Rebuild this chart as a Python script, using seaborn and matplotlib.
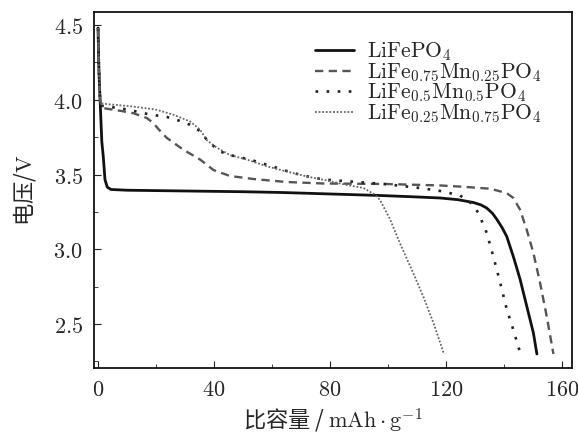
import numpy as np
import pandas as pd
import seaborn as sns
import matplotlib.pyplot as plt
from matplotlib.ticker import MultipleLocator, FuncFormatter

# discharge curves (capacity in mAh/g, voltage in V)
lfp_cap = [0, 0.3, 0.7, 1.3, 1.8, 2.4, 3.2, 4.5, 10, 30, 50, 63, 80, 97, 110, 118,
           124, 129.4, 132, 134, 136, 137.5, 139.3, 140.9, 143.2, 145.5, 147.8,
           150.1, 151.3]
lfp_v = [4.48, 4.2, 4.0, 3.72, 3.62, 3.465, 3.415, 3.40, 3.395, 3.39, 3.385, 3.38,
         3.37, 3.36, 3.35, 3.343, 3.332, 3.313, 3.297, 3.276, 3.24, 3.20, 3.145,
         3.086, 2.95, 2.80, 2.62, 2.44, 2.30]

m25_cap = [0, 0.3, 0.7, 1.2, 1.8, 8, 12.2, 16.8, 19, 21, 23.7, 29.4, 35.2, 39.8,
           45.5, 53.6, 65, 77.7, 98.4, 117.9, 126, 135.2, 140.9, 143.2, 145.5,
           147.8, 150.1, 152.4, 154.7, 157]
m25_v = [4.48, 4.2, 4.0, 3.955, 3.944, 3.925, 3.91, 3.878, 3.845, 3.80, 3.745,
         3.666, 3.60, 3.53, 3.49, 3.47, 3.45, 3.44, 3.437, 3.427, 3.418, 3.405,
         3.376, 3.343, 3.265, 3.13, 2.975, 2.775, 2.55, 2.30]

m50_cap = [0, 0.3, 0.7, 1.2, 5, 10, 16.8, 20.5, 23.7, 28, 31.7, 35.2, 38, 42,
           45.5, 52.4, 59.9, 67.3, 74.8, 78.9, 98.4, 111, 118, 124.8, 128.5,
           131.1, 134, 136.3, 138.6, 140.9, 143.2, 145.2, 146]
m50_v = [4.48, 4.2, 4.0, 3.96, 3.95, 3.935, 3.906, 3.894, 3.885, 3.86, 3.833, 3.79,
         3.72, 3.655, 3.63, 3.60, 3.555, 3.51, 3.476, 3.465, 3.437, 3.41, 3.39,
         3.36, 3.31, 3.245, 3.11, 2.95, 2.78, 2.60, 2.46, 2.33, 2.28]

m75_cap = [0, 0.3, 0.7, 1.2, 5.3, 12, 20.2, 26, 31.7, 35.2, 37.5, 40.9, 45.5,
           51.3, 58.2, 65, 72, 78.9, 85.8, 91.5, 95.5, 97.2, 100.7, 104.1, 108.7,
           112.2, 115.6, 119.1, 119.6]
m75_v = [4.48, 4.2, 4.0, 3.975, 3.967, 3.955, 3.933, 3.90, 3.855, 3.80, 3.73,
         3.68, 3.63, 3.60, 3.555, 3.52, 3.487, 3.46, 3.43, 3.41, 3.365, 3.33,
         3.20, 3.04, 2.84, 2.68, 2.51, 2.31, 2.30]

labels = [r'$\mathrm{LiFePO_4}$',
          r'$\mathrm{LiFe_{0.75}Mn_{0.25}PO_4}$',
          r'$\mathrm{LiFe_{0.5}Mn_{0.5}PO_4}$',
          r'$\mathrm{LiFe_{0.25}Mn_{0.75}PO_4}$']

sns.set_style('ticks')
plt.rcParams['font.family'] = ['Noto Sans CJK SC', 'DejaVu Sans']
plt.rcParams['mathtext.fontset'] = 'cm'

fig = plt.figure(figsize=(5.78, 4.34), dpi=100)
ax = fig.add_axes([0.1626, 0.152, 0.827, 0.8204])

series = [
    (lfp_cap, lfp_v, dict(color='#111111', linewidth=2.0, linestyle='-')),
    (m25_cap, m25_v, dict(color='#555555', linewidth=1.7, linestyle=(0, (3.5, 2.3)))),
    (m50_cap, m50_v, dict(color='#222222', linewidth=1.9, linestyle=(0, (1, 3.2)))),
    (m75_cap, m75_v, dict(color='#666666', linewidth=1.3, linestyle=(0, (1, 1)))),
]
for (cap, v, style), lab in zip(series, labels):
    df = pd.DataFrame({'cap': cap, 'v': v})
    sns.lineplot(data=df, x='cap', y='v', ax=ax, sort=False, estimator=None,
                 label=lab, **style)

ax.set_xlim(-1.4, 163.4)
ax.set_ylim(2.206, 4.587)
ax.xaxis.set_major_locator(MultipleLocator(40))
ax.xaxis.set_minor_locator(MultipleLocator(20))
ax.yaxis.set_major_locator(MultipleLocator(0.5))
ax.yaxis.set_minor_locator(MultipleLocator(0.25))
ax.xaxis.set_major_formatter(FuncFormatter(lambda v, p: r'$%d$' % v))
ax.yaxis.set_major_formatter(FuncFormatter(lambda v, p: r'$%.1f$' % v))
ax.tick_params(which='both', direction='in', top=False, right=False,
               labelsize=16, color='#222222')
ax.tick_params(axis='x', pad=7)
ax.tick_params(axis='y', pad=8)
ax.tick_params(which='major', length=5)
ax.tick_params(which='minor', length=3)
for s in ax.spines.values():
    s.set_linewidth(1.3)
    s.set_color('#111111')

ax.set_xlabel(r'比容量 / $\mathrm{mAh\cdot g^{-1}}$', fontsize=16, labelpad=4)
ax.set_ylabel(r'电压/$\mathrm{V}$', fontsize=16, labelpad=11)

ax.legend(loc='upper left', bbox_to_anchor=(0.44, 0.95), frameon=False,
          fontsize=15.5, handlelength=1.8, handletextpad=0.6,
          labelspacing=-0.1, borderpad=0)

fig.savefig('out.png', dpi=100)
